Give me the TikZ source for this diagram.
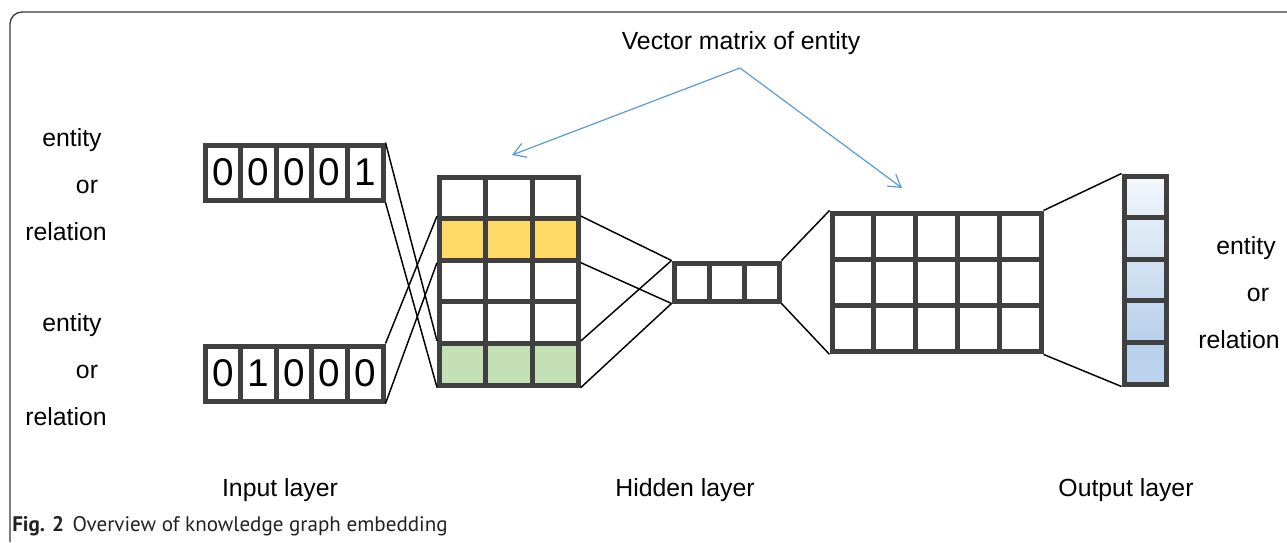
\documentclass[tikz,border=0pt]{standalone}
\usepackage{fontspec}
\setmainfont{Liberation Sans}
\newfontfamily\capfont{PT Sans}
\usetikzlibrary{arrows.meta}
\definecolor{cellgray}{HTML}{404040}
\definecolor{yel}{HTML}{FFD966}
\definecolor{grn}{HTML}{C5E0B4}
\definecolor{arrblue}{HTML}{5B9BD5}
\definecolor{framegray}{HTML}{3A3A3A}
\definecolor{captext}{HTML}{222222}
\definecolor{ob0}{HTML}{F4F8FC}
\definecolor{ob1}{HTML}{E3ECF7}
\definecolor{ob2}{HTML}{D4E3F3}
\definecolor{ob3}{HTML}{C6DAEF}
\definecolor{ob4}{HTML}{B8D0EB}
\definecolor{ob5}{HTML}{BCD4EC}
\begin{document}
\begin{tikzpicture}[x=0.75pt,y=-0.75pt,
  cell/.style 2 args={draw=cellgray,line width=3.75pt,minimum width=#1*0.75pt,minimum height=#2*0.75pt,inner sep=0pt},
  digit/.style={font=\fontsize{29}{32}\selectfont},
  lab/.style={font=\fontsize{18.6}{22}\selectfont,anchor=base,inner sep=0pt},
  conn/.style={draw=black,line width=1.1pt},
  barrow/.style={draw=arrblue,line width=0.9pt,-{Straight Barb[length=9pt,width=11pt]}},
  frame/.style={draw=framegray,line width=1pt,rounded corners=9pt}]
\useasboundingbox (0,0) rectangle (1287,542);
\draw[frame] (10,542) -- (10,12) -- (1287,12);

% input vectors
\foreach \i/\d in {1/0,2/0,3/0,4/0,5/1}
  \node[cell={35.6}{55},fill=white,digit] (I1-\i) at (205+35.6*\i-17.8,172.5) {\d};
\foreach \i/\d in {1/0,2/1,3/0,4/0,5/0}
  \node[cell={35.6}{55},fill=white,digit] (I2-\i) at (205+35.6*\i-17.8,373.5) {\d};

% left hidden matrix
\foreach \r in {1,...,5}
  \foreach \c in {1,...,3}
    \node[cell={46.3}{41.6},fill=white] (L-\r-\c) at (439.5+46.3*\c-23.15,177+41.6*\r-20.8) {};
\foreach \c in {1,...,3} {
  \node[cell={46.3}{41.6},fill=yel] at (L-2-\c) {};
  \node[cell={46.3}{41.6},fill=grn] at (L-5-\c) {};
}

% small hidden vector
\foreach \i in {1,...,3}
  \node[cell={35}{38},fill=white] (S-\i) at (674+35*\i-17.5,282) {};

% right hidden matrix
\foreach \r in {1,...,3}
  \foreach \c in {1,...,5}
    \node[cell={41.8}{46.3},fill=white] (R-\r-\c) at (832+41.8*\c-20.9,213+46.3*\r-23.15) {};

% output vector
\foreach \i/\ta/\tb in {1/ob0/ob1,2/ob1/ob2,3/ob2/ob3,4/ob3/ob4,5/ob4/ob5}
  \node[cell={42}{41.6},top color=\ta,bottom color=\tb] (O-\i) at (1145,176+41.6*\i-20.8) {};

% connectors
\draw[conn] (I1-5.north east) -- (L-5-1.north west);
\draw[conn] (I1-5.south east) -- (L-5-1.south west);
\draw[conn] (I2-5.north east) -- (L-2-1.north west);
\draw[conn] (I2-5.south east) -- (L-2-1.south west);
\draw[conn] (L-2-3.north east) -- (S-1.north west);
\draw[conn] (L-2-3.south east) -- (S-1.south west);
\draw[conn] (L-5-3.north east) -- (S-1.north west);
\draw[conn] (L-5-3.south east) -- (S-1.south west);
\draw[conn] (S-3.north east) -- (R-1-1.north west);
\draw[conn] (S-3.south east) -- (R-3-1.south west);
\draw[conn] (R-1-5.north east) -- (O-1.north west);
\draw[conn] (R-3-5.south east) -- (O-5.south west);

% vector matrix label and arrows
\node[lab] (vm) at (741,50) {Vector matrix of entity};
\coordinate (apex) at (740,68);
\coordinate (tipL) at (512,155);
\coordinate (tipR) at (902,188);
\draw[barrow] (apex) -- (tipL);
\draw[barrow] (apex) -- (tipR);

% side labels
\node[lab] (e1) at (72,146) {entity};
\node[lab] (o1) at (87,193) {or};
\node[lab] (r1) at (66,240) {relation};
\node[lab] (e2) at (72,331) {entity};
\node[lab] (o2) at (87,378) {or};
\node[lab] (r2) at (66,425) {relation};
\node[lab] (e3) at (1246,254) {entity};
\node[lab] (o3) at (1258,301) {or};
\node[lab] (r3) at (1239,348) {relation};

% layer labels
\node[lab] (inl) at (280,496) {Input layer};
\node[lab] (hid) at (685,496) {Hidden layer};
\node[lab] (outl) at (1126,496) {Output layer};

% caption
\node[anchor=base west,inner sep=0pt,text=captext,font=\capfont\fontsize{15.8}{18}\selectfont] (cap) at (12,531) {\textbf{Fig. 2}\hspace{0.4em}Overview of knowledge graph embedding};
\end{tikzpicture}
\end{document}
